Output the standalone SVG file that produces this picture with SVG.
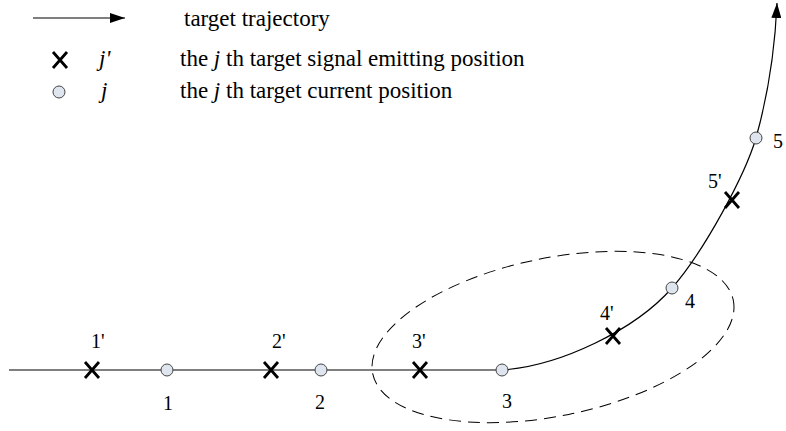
<svg xmlns="http://www.w3.org/2000/svg" width="786" height="431" viewBox="0 0 786 431">
<style>
.t{font-family:"Liberation Serif","Times New Roman",serif;font-size:23px;fill:#000}
.n{font-family:"Liberation Serif","Times New Roman",serif;font-size:20px;fill:#000}
.i{font-style:italic}
.line{fill:none;stroke:#000;stroke-width:1.2}
.pt{fill:#dfe5ee;stroke:#444;stroke-width:1}
.x{stroke:#000;stroke-width:2.8;fill:none}
.ell{fill:none;stroke:#000;stroke-width:1;stroke-dasharray:12 7}
</style>
<defs>
<marker id="ah" markerWidth="16" markerHeight="10" refX="15" refY="5" orient="auto" markerUnits="userSpaceOnUse">
<path d="M0,0 L15,5 L0,10 Z" fill="#000"/>
</marker>
<g id="cross"><path d="M-7,-8 L7,8 M7,-8 L-7,8"/></g>
</defs>
<g id="legend">
<line class="line" x1="33" y1="18" x2="125" y2="18" marker-end="url(#ah)"/>
<text class="t" x="184" y="26">target trajectory</text>
<use href="#cross" class="x" x="60" y="60"/>
<text class="t i" x="99" y="66">j'</text>
<text class="t" x="180" y="66">the <tspan class="i">j</tspan> th target signal emitting position</text>
<circle class="pt" cx="59" cy="92" r="6"/>
<text class="t i" x="101" y="98">j</text>
<text class="t" x="180" y="98">the  <tspan class="i">j</tspan> th target current position</text>
</g>
<g id="connectors">
<line class="line" x1="9" y1="370" x2="502" y2="370"/>
<path class="line" d="M502,370 C560,366 635,330 672,288 C705,250 745,175 756,138 C768,95 775,50 777,3" marker-end="url(#ah)"/>
</g>
<g id="region">
<ellipse class="ell" cx="553" cy="337" rx="184" ry="79" transform="rotate(-11.5 553 337)"/>
</g>
<g id="p1e"><use href="#cross" class="x" x="92" y="370"/><text class="n" x="91" y="348">1'</text></g>
<g id="p1"><circle class="pt" cx="167" cy="370" r="6"/><text class="n" x="163" y="410">1</text></g>
<g id="p2e"><use href="#cross" class="x" x="271" y="370"/><text class="n" x="272" y="348">2'</text></g>
<g id="p2"><circle class="pt" cx="321" cy="370" r="6"/><text class="n" x="315" y="409">2</text></g>
<g id="p3e"><use href="#cross" class="x" x="420" y="370"/><text class="n" x="412" y="348">3'</text></g>
<g id="p3"><circle class="pt" cx="502" cy="370" r="6"/><text class="n" x="502" y="408">3</text></g>
<g id="p4e"><use href="#cross" class="x" x="613" y="336"/><text class="n" x="600" y="320">4'</text></g>
<g id="p4"><circle class="pt" cx="672" cy="288" r="6"/><text class="n" x="685" y="308">4</text></g>
<g id="p5e"><use href="#cross" class="x" x="732" y="200"/><text class="n" x="708" y="188">5'</text></g>
<g id="p5"><circle class="pt" cx="756" cy="138" r="6"/><text class="n" x="773" y="148">5</text></g>
</svg>
